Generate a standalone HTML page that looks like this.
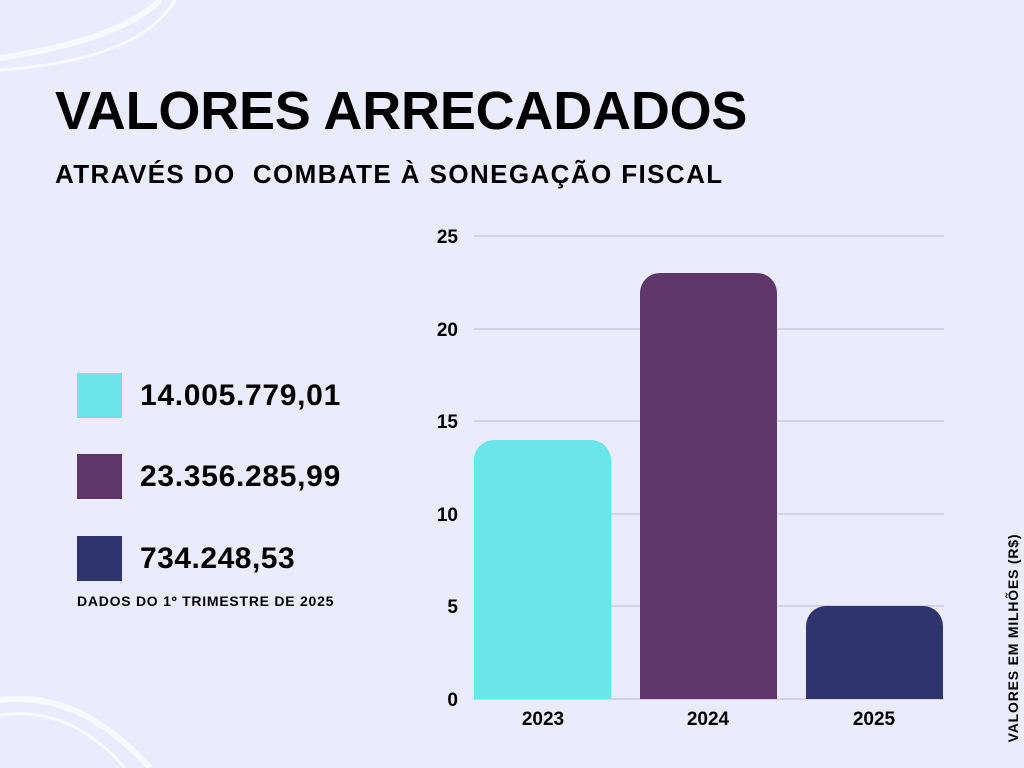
<!DOCTYPE html>
<html><head><meta charset="utf-8"><style>
body{margin:0;width:1024px;height:768px;background:#eaecfd;position:relative;overflow:hidden;font-family:"Liberation Sans",sans-serif;}
.a{position:absolute;white-space:nowrap;}
</style></head><body>
<svg class="a" style="left:0;top:0" width="1024" height="768">
<path d="M0,58 Q120,40 160,0" stroke="#f8f9ff" stroke-width="6" fill="none"/>
<path d="M0,70 Q140,60 175,0" stroke="#f8f9ff" stroke-width="3" fill="none"/>
<path d="M0,700 Q80,690 150,768" stroke="#f8f9ff" stroke-width="6" fill="none"/>
<path d="M0,715 Q70,705 125,768" stroke="#f8f9ff" stroke-width="3" fill="none"/>
<g stroke="#c9cad8" stroke-width="1.5">
<line x1="474" y1="236" x2="944" y2="236"/><line x1="474" y1="329" x2="944" y2="329"/>
<line x1="474" y1="421" x2="944" y2="421"/><line x1="474" y1="514" x2="944" y2="514"/>
<line x1="474" y1="606" x2="944" y2="606"/><line x1="474" y1="699" x2="944" y2="699"/>
</g>
<path d="M474,699 V460 a20,20 0 0 1 20,-20 H591 a20,20 0 0 1 20,20 V699Z" fill="#6be5e8"/>
<path d="M640,699 V293 a20,20 0 0 1 20,-20 H757 a20,20 0 0 1 20,20 V699Z" fill="#5e366b"/>
<path d="M806,699 V626 a20,20 0 0 1 20,-20 H923 a20,20 0 0 1 20,20 V699Z" fill="#2f346d"/>
<g font-family="Liberation Sans" font-weight="bold" font-size="19" fill="#000" text-anchor="end">
<text x="458" y="243">25</text><text x="458" y="336">20</text><text x="458" y="428">15</text>
<text x="458" y="521">10</text><text x="458" y="613">5</text><text x="458" y="706">0</text>
</g>
<g font-family="Liberation Sans" font-weight="bold" font-size="19" fill="#000" text-anchor="middle">
<text x="543" y="725">2023</text><text x="708" y="725">2024</text><text x="874" y="725">2025</text>
</g>
<text transform="translate(1018,638) rotate(-90)" text-anchor="middle" font-family="Liberation Sans" font-weight="bold" font-size="14" letter-spacing="0.8" fill="#000">VALORES EM MILHÕES (R$)</text>
</svg>
<div class="a" style="left:55px;top:80px;font-size:54px;font-weight:bold;letter-spacing:-0.2px;">VALORES ARRECADADOS</div>
<div class="a" style="left:55px;top:159px;font-size:26px;font-weight:bold;letter-spacing:1.4px;">ATRAVÉS DO &nbsp;COMBATE À SONEGAÇÃO FISCAL</div>
<div class="a" style="left:77px;top:373px;width:45px;height:45px;background:#6be5e8"></div>
<div class="a" style="left:77px;top:454px;width:45px;height:45px;background:#5e366b"></div>
<div class="a" style="left:77px;top:536px;width:45px;height:45px;background:#2f346d"></div>
<div class="a" style="left:140px;top:379px;font-size:30px;font-weight:bold;letter-spacing:0.7px;">14.005.779,01</div>
<div class="a" style="left:140px;top:460px;font-size:30px;font-weight:bold;letter-spacing:0.7px;">23.356.285,99</div>
<div class="a" style="left:140px;top:542px;font-size:30px;font-weight:bold;letter-spacing:0.5px;">734.248,53</div>
<div class="a" style="left:77px;top:593px;font-size:14px;font-weight:bold;letter-spacing:0.75px;">DADOS DO 1º TRIMESTRE DE 2025</div>
</body></html>
